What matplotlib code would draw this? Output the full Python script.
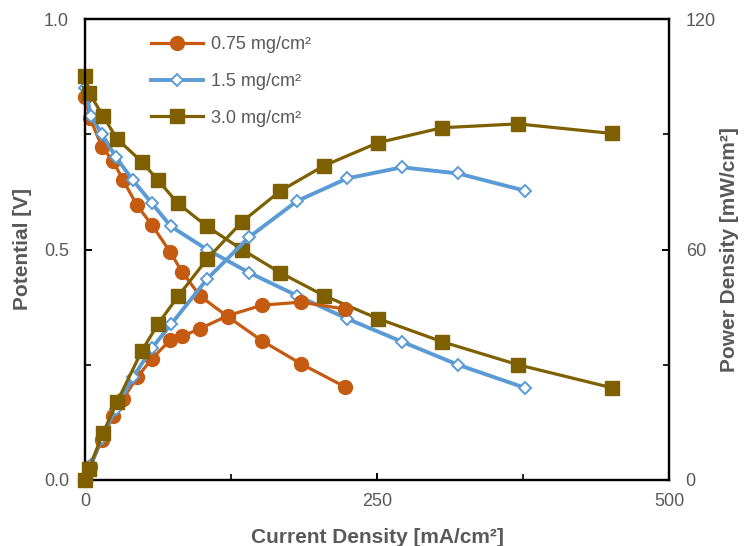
import matplotlib
matplotlib.use("Agg")
import matplotlib.pyplot as plt
from matplotlib.ticker import MultipleLocator, FormatStrFormatter

plt.rcParams['font.family'] = ['Liberation Sans', 'DejaVu Sans']

# 0.75 mg/cm2
i_075 = [0, 4.3, 14.6, 24.0, 32.5, 44.5, 57.4, 72.8, 83.0, 98.5, 122.4, 151.5, 185.0, 222.6]
v_075 = [0.83, 0.785, 0.722, 0.692, 0.651, 0.596, 0.553, 0.495, 0.452, 0.399, 0.354, 0.302, 0.252, 0.202]
p_075 = [0, 3.4, 10.5, 16.6, 21.1, 26.7, 31.6, 36.4, 37.4, 39.4, 42.8, 45.5, 46.3, 44.5]

# 1.5 mg/cm2
i_15 = [0, 5.1, 14.6, 26.5, 41.1, 57.4, 73.6, 104.5, 140.4, 181.5, 224.3, 271.4, 319.3, 376.7]
v_15 = [0.85, 0.79, 0.75, 0.70, 0.65, 0.60, 0.55, 0.50, 0.45, 0.40, 0.35, 0.30, 0.25, 0.20]
p_15 = [0, 4.0, 11.0, 18.6, 26.7, 34.4, 40.5, 52.3, 63.2, 72.6, 78.5, 81.4, 79.8, 75.3]

# 3.0 mg/cm2
i_30 = [0, 3.4, 15.4, 27.4, 48.8, 62.5, 79.6, 104.5, 134.4, 167.0, 204.6, 250.9, 305.7, 370.7, 451.2]
v_30 = [0.876, 0.84, 0.79, 0.74, 0.69, 0.65, 0.60, 0.55, 0.50, 0.45, 0.40, 0.35, 0.30, 0.25, 0.20]
p_30 = [0, 2.9, 12.2, 20.3, 33.7, 40.6, 47.8, 57.5, 67.2, 75.2, 81.8, 87.8, 91.7, 92.7, 90.2]

labels = ['0.75 mg/cm²', '1.5 mg/cm²', '3.0 mg/cm²']

ORANGE = '#C55A11'
BLUE = '#5B9BD5'
OLIVE = '#7F6000'
GRAY = '#595959'

fig = plt.figure(figsize=(7.44, 5.46), dpi=100)
ax = fig.add_axes([85 / 744, 1 - 480 / 546, 584 / 744, 461 / 546])
ax2 = ax.twinx()

styles = [
    dict(color=ORANGE, marker='o', markersize=10, lw=2.3),
    dict(color=BLUE, marker='D', markersize=6, lw=2.8, markerfacecolor='white', markeredgewidth=1.4),
    dict(color=OLIVE, marker='s', markersize=10, lw=2.3),
]

for xs, ys, st, lab in zip([i_075, i_15, i_30], [v_075, v_15, v_30], styles, labels):
    ax.plot(xs, ys, label=lab, clip_on=False, zorder=3, **st)
for xs, ys, st in zip([i_075, i_15, i_30], [p_075, p_15, p_30], styles):
    ax2.plot(xs, ys, clip_on=False, zorder=3, **st)

ax.set_xlim(0, 500)
ax.set_ylim(0, 1.0)
ax2.set_ylim(0, 120)

ax.xaxis.set_major_locator(MultipleLocator(250))
ax.xaxis.set_minor_locator(MultipleLocator(125))
ax.yaxis.set_major_locator(MultipleLocator(0.5))
ax.yaxis.set_minor_locator(MultipleLocator(0.25))
ax.yaxis.set_major_formatter(FormatStrFormatter('%.1f'))
ax2.yaxis.set_major_locator(MultipleLocator(60))
ax2.yaxis.set_minor_locator(MultipleLocator(30))

for a in (ax, ax2):
    for s in a.spines.values():
        s.set_linewidth(1.6)
        s.set_color('black')
    a.tick_params(which='major', direction='in', length=5, width=1.4, labelsize=13, labelcolor=GRAY)
    a.tick_params(which='minor', direction='in', length=4, width=1.2)
ax.tick_params(axis='x', pad=9)
ax.tick_params(axis='y', pad=11.5)
ax2.tick_params(axis='y', pad=12)

lab_font = dict(fontsize=15, fontweight='bold', color=GRAY)
ax.set_xlabel('Current Density [mA/cm²]', **lab_font)
ax.set_ylabel('Potential [V]', **lab_font)
ax2.set_ylabel('Power Density [mW/cm²]', **lab_font)
ax.xaxis.set_label_coords(0.5, -0.104)
ax.yaxis.set_label_coords(-0.09, 0.5)
ax2.yaxis.set_label_coords(1.087, 0.5)

leg = ax.legend(loc='upper left', bbox_to_anchor=(151 / 744, 1 - 36 / 546),
                bbox_transform=fig.transFigure, frameon=False, fontsize=13,
                handlelength=2.9, handletextpad=0.4, labelspacing=1.1,
                borderpad=0, borderaxespad=0)
for t in leg.get_texts():
    t.set_color(GRAY)

fig.savefig('out.png', dpi=100)
